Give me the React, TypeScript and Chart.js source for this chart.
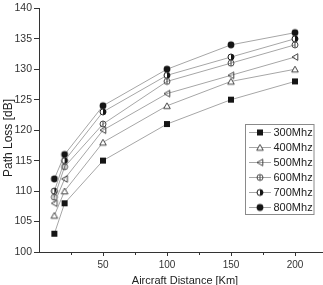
import React, { useEffect, useRef } from "react";
import { Chart, registerables } from "chart.js";

Chart.register(...registerables);

// Aircraft distance in km
const distances = [12, 20, 50, 100, 150, 200];

// Path loss in dB per carrier frequency
const loss300 = [103, 108, 115, 121, 125, 128];
const loss400 = [106, 110, 118, 124, 128, 130];
const loss500 = [108, 112, 120, 126, 129, 132];
const loss600 = [109, 114, 121, 128, 131, 134];
const loss700 = [110, 115, 123, 129, 132, 135];
const loss800 = [112, 116, 124, 130, 134, 136];

const seriesLabels = ["300Mhz", "400Mhz", "500Mhz", "600Mhz", "700Mhz", "800Mhz"];
const markerKinds = ["square", "triangle", "leftTriangle", "openCircle", "halfCircle", "dot"];

const xMajorTicks = [50, 100, 150, 200];
const xMinorTicks = [25, 75, 125, 175, 225];

const xTitle = "Aircraft Distance [Km]";
const yTitle = "Path Loss [dB]";

const FONT = "'Liberation Sans', Arial, sans-serif";
const INK = "#151515";
const OPEN_INK = "#444";
const LINE = "#a6a6a6";

function makeMarker(kind: string): HTMLCanvasElement {
  const c = document.createElement("canvas");
  c.width = 10;
  c.height = 10;
  const g = c.getContext("2d")!;
  const m = 5;
  g.lineWidth = 1;
  g.strokeStyle = OPEN_INK;
  g.fillStyle = INK;
  if (kind === "square") {
    g.fillRect(2, 2, 6, 6);
  } else if (kind === "triangle") {
    g.beginPath();
    g.moveTo(m, 2);
    g.lineTo(8.3, 7.8);
    g.lineTo(1.7, 7.8);
    g.closePath();
    g.fillStyle = "#fff";
    g.fill();
    g.stroke();
  } else if (kind === "leftTriangle") {
    g.beginPath();
    g.moveTo(2, m);
    g.lineTo(7.8, 1.7);
    g.lineTo(7.8, 8.3);
    g.closePath();
    g.stroke();
  } else if (kind === "openCircle") {
    g.beginPath();
    g.arc(m, m, 3, 0, Math.PI * 2);
    g.stroke();
    g.beginPath();
    g.moveTo(m, 2);
    g.lineTo(m, 8);
    g.stroke();
  } else if (kind === "halfCircle") {
    g.strokeStyle = INK;
    g.beginPath();
    g.arc(m, m, 3, 0, Math.PI * 2);
    g.fillStyle = "#fff";
    g.fill();
    g.stroke();
    g.beginPath();
    g.arc(m, m, 3, -Math.PI / 2, Math.PI / 2);
    g.closePath();
    g.fillStyle = INK;
    g.fill();
  } else {
    g.beginPath();
    g.arc(m, m, 3.4, 0, Math.PI * 2);
    g.fill();
  }
  return c;
}

export default function App() {
  const canvasRef = useRef<HTMLCanvasElement | null>(null);

  useEffect(() => {
    const canvas = canvasRef.current;
    if (!canvas) return;

    const allSeries = [loss300, loss400, loss500, loss600, loss700, loss800];
    const markers = markerKinds.map(makeMarker);

    const datasets = allSeries.map((vals, i) => ({
      label: seriesLabels[i],
      data: vals.map((v, j) => ({ x: distances[j], y: v })),
      borderColor: LINE,
      borderWidth: 1,
      pointStyle: markers[i],
      pointRadius: 4,
      tension: 0,
      fill: false,
    }));

    const decorations = {
      id: "decorations",
      afterDraw(chart: any) {
        const ctx = chart.ctx as CanvasRenderingContext2D;
        const xs = chart.scales.x;
        const area = chart.chartArea;
        ctx.save();

        // minor ticks along the distance axis
        ctx.strokeStyle = "#333";
        ctx.lineWidth = 1;
        xMinorTicks.forEach((v) => {
          const px = Math.round(xs.getPixelForValue(v)) + 0.5;
          ctx.beginPath();
          ctx.moveTo(px, area.bottom);
          ctx.lineTo(px, area.bottom + 3);
          ctx.stroke();
        });

        // axis titles
        ctx.fillStyle = "#222";
        ctx.textAlign = "center";
        ctx.textBaseline = "middle";
        ctx.font = `11px ${FONT}`;
        ctx.fillText(xTitle, 185, 281);
        ctx.save();
        ctx.translate(9, 138);
        ctx.rotate(-Math.PI / 2);
        ctx.font = `12px ${FONT}`;
        ctx.fillText(yTitle, 0, 0);
        ctx.restore();

        // legend box
        ctx.fillStyle = "#fff";
        ctx.fillRect(245.5, 124.5, 68.5, 90);
        ctx.strokeStyle = "#8a8a8a";
        ctx.strokeRect(245.5, 124.5, 68.5, 90);
        ctx.font = `11px ${FONT}`;
        ctx.textAlign = "left";
        chart.data.datasets.forEach((ds: any, i: number) => {
          const y = 132 + i * 15;
          ctx.strokeStyle = LINE;
          ctx.beginPath();
          ctx.moveTo(249, y + 0.5);
          ctx.lineTo(271, y + 0.5);
          ctx.stroke();
          const mk = ds.pointStyle as HTMLCanvasElement;
          ctx.drawImage(mk, 260 - mk.width / 2, y - mk.height / 2 + 0.5);
          ctx.fillStyle = "#222";
          ctx.fillText(ds.label, 273.5, y + 0.5);
        });

        ctx.restore();
      },
    };

    const chart = new Chart(canvas, {
      type: "line",
      data: { datasets },
      options: {
        animation: false,
        responsive: false,
        maintainAspectRatio: false,
        layout: { padding: { top: 8, right: 0.5, left: 0, bottom: 0 } },
        plugins: {
          legend: { display: false },
          tooltip: { enabled: false },
        },
        scales: {
          x: {
            type: "linear",
            min: 0,
            max: 225,
            afterBuildTicks: (s: any) => {
              s.ticks = xMajorTicks.map((v) => ({ value: v }));
            },
            afterFit: (s: any) => {
              s.height = 33;
            },
            ticks: {
              autoSkip: false,
              maxRotation: 0,
              padding: 3,
              color: "#333",
              font: { family: FONT, size: 10 },
            },
            grid: {
              display: true,
              drawOnChartArea: false,
              drawTicks: true,
              tickLength: 4,
              tickColor: "#333",
            },
            border: { display: true, color: "#333", width: 1 },
          },
          y: {
            type: "linear",
            min: 100,
            max: 140,
            afterFit: (s: any) => {
              s.width = 39;
            },
            ticks: {
              stepSize: 5,
              padding: 2,
              color: "#333",
              font: { family: FONT, size: 10.5 },
            },
            grid: {
              display: true,
              drawOnChartArea: false,
              drawTicks: true,
              tickLength: 5,
              tickColor: "#333",
            },
            border: { display: true, color: "#333", width: 1 },
          },
        },
      },
      plugins: [decorations],
    });

    return () => chart.destroy();
  }, []);

  return (
    <div
      style={{
        position: "fixed",
        left: 0,
        top: 0,
        width: 323,
        height: 285,
        overflow: "hidden",
        background: "#fff",
      }}
    >
      <canvas
        ref={canvasRef}
        width={332}
        height={285}
        style={{ display: "block", width: 332, height: 285 }}
      />
    </div>
  );
}
